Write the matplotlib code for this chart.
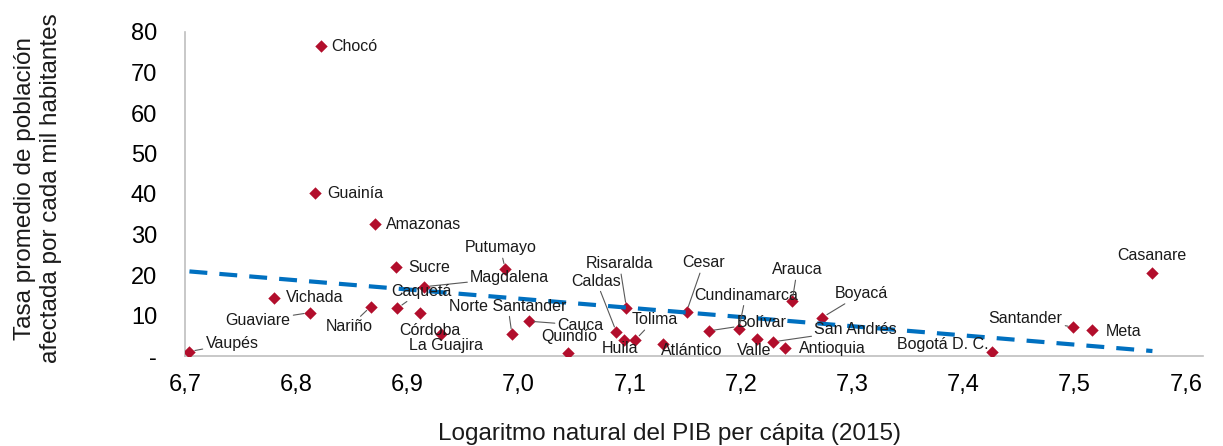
import numpy as np
import matplotlib
matplotlib.use("Agg")
import matplotlib.pyplot as plt

plt.rcParams['font.family'] = ['Liberation Sans', 'DejaVu Sans']

# ---- data ----
departments = ["Chocó", "Guainía", "Amazonas", "Putumayo", "Sucre", "Magdalena",
               "Vichada", "Guaviare", "Nariño", "Caquetá", "Córdoba", "La Guajira",
               "Vaupés", "Norte Santander", "Cauca", "Quindío", "Caldas", "Huila",
               "Tolima", "Risaralda", "Atlántico", "Cesar", "Bolívar", "Cundinamarca",
               "Valle", "San Andrés", "Antioquia", "Arauca", "Boyacá", "Bogotá D. C.",
               "Santander", "Meta", "Casanare"]
log_pib = [6.822, 6.817, 6.871, 6.988, 6.890, 6.915,
           6.780, 6.812, 6.867, 6.891, 6.911, 6.930,
           6.704, 6.994, 7.009, 7.044, 7.088, 7.095,
           7.105, 7.097, 7.130, 7.151, 7.171, 7.198,
           7.214, 7.229, 7.240, 7.246, 7.273, 7.426,
           7.499, 7.516, 7.570]
tasa = [76.5, 40.2, 32.5, 21.5, 21.9, 17.1,
        14.4, 10.7, 12.2, 11.8, 10.6, 5.4,
        1.1, 5.4, 8.6, 0.7, 5.9, 4.0,
        4.0, 11.9, 2.9, 10.9, 6.2, 6.6,
        4.1, 3.5, 2.0, 13.6, 9.5, 1.1,
        7.1, 6.4, 20.5]
x_ticks = [6.7, 6.8, 6.9, 7.0, 7.1, 7.2, 7.3, 7.4, 7.5, 7.6]
x_ticklabels = ["6,7", "6,8", "6,9", "7,0", "7,1", "7,2", "7,3", "7,4", "7,5", "7,6"]
y_ticks = [0, 10, 20, 30, 40, 50, 60, 70, 80]
y_ticklabels = ["-", "10", "20", "30", "40", "50", "60", "70", "80"]

# label placement: offset in pixels (dx, dy up), ha, leader line
label_pos = {
    "Chocó": (11, 0, 'left', False),
    "Guainía": (12, 0, 'left', False),
    "Amazonas": (11, 0, 'left', False),
    "Putumayo": (-5, 21, 'center', True),
    "Sucre": (12, 0, 'left', False),
    "Magdalena": (46, 9, 'left', True),
    "Vichada": (12, 0, 'left', False),
    "Guaviare": (-19, -8, 'right', True),
    "Nariño": (-21, -20, 'center', True),
    "Caquetá": (24, 17, 'center', True),
    "Córdoba": (10, -17, 'center', False),
    "La Guajira": (5, -11, 'center', False),
    "Vaupés": (16, 8, 'left', True),
    "Norte Santander": (-4, 28, 'center', True),
    "Cauca": (29, -4, 'left', True),
    "Quindío": (2, 17, 'center', False),
    "Caldas": (-20, 51, 'center', True),
    "Huila": (-4, -9, 'center', False),
    "Tolima": (19, 20, 'center', True),
    "Risaralda": (-7, 44, 'center', True),
    "Atlántico": (29, -6, 'center', False),
    "Cesar": (17, 49, 'center', True),
    "Bolívar": (28, 8, 'left', True),
    "Cundinamarca": (7, 34, 'center', True),
    "Valle": (-2, -11, 'center', False),
    "San Andrés": (41, 12, 'left', True),
    "Antioquia": (13, -1, 'left', False),
    "Arauca": (5, 31, 'center', True),
    "Boyacá": (13, 24, 'left', True),
    "Bogotá D. C.": (-4, 7, 'right', False),
    "Santander": (-11, 9, 'right', True),
    "Meta": (13, -1, 'left', False),
    "Casanare": (-1, 17, 'center', False),
}

W, H = 1223, 446
fig = plt.figure(figsize=(W / 100, H / 100), dpi=100)
ax = fig.add_axes([185 / W, 1 - 356 / H, (1203 - 185) / W, (356 - 32) / H])

point_color = '#B20E2C'
ax.scatter(log_pib, tasa, marker='D', s=40, color=point_color, linewidths=0, zorder=3)

# linear trend line
xa = np.array(log_pib)
ya = np.array(tasa)
m, b = np.polyfit(xa, ya, 1)
xt = np.array([xa.min(), xa.max()])
ax.plot(xt, m * xt + b, color='#0070C0', lw=3.0, dashes=(4.3, 2.9),
        dash_capstyle='butt', zorder=4)

for name, xv, yv in zip(departments, log_pib, tasa):
    dx, dy, ha, leader = label_pos[name]
    props = None
    if leader:
        props = dict(arrowstyle='-', color='#595959', lw=0.8,
                     shrinkA=0, shrinkB=4)
    ax.annotate(name, xy=(xv, yv), xytext=(dx, dy), textcoords='offset pixels',
                ha=ha, va='center', fontsize=11.5, color='#1a1a1a',
                arrowprops=props, zorder=5)

ax.set_xlim(6.7, 6.7 + 1018 / 1112)
ax.set_ylim(0, 80)
ax.set_xticks(x_ticks)
ax.set_xticklabels(x_ticklabels)
ax.set_yticks(y_ticks)
ax.set_yticklabels(y_ticklabels)
ax.tick_params(axis='x', length=0, pad=13, labelsize=17, colors='#000000')
ax.tick_params(axis='y', length=0, pad=20, labelsize=17, colors='#000000')

for s in ['top', 'right']:
    ax.spines[s].set_visible(False)
for s in ['left', 'bottom']:
    ax.spines[s].set_color('#BFBFBF')
    ax.spines[s].set_linewidth(1.2)

fig.text(669 / W, 1 - 434 / H, "Logaritmo natural del PIB per cápita (2015)",
         ha='center', va='center', fontsize=17.5, color='#1a1a1a')
fig.text(38 / W, 1 - 188 / H,
         "Tasa promedio de población\nafectada por cada mil habitantes",
         ha='center', va='center', rotation=90, fontsize=17.5,
         color='#1a1a1a', linespacing=1.25, multialignment='center')

fig.savefig("out.png", dpi=100)
